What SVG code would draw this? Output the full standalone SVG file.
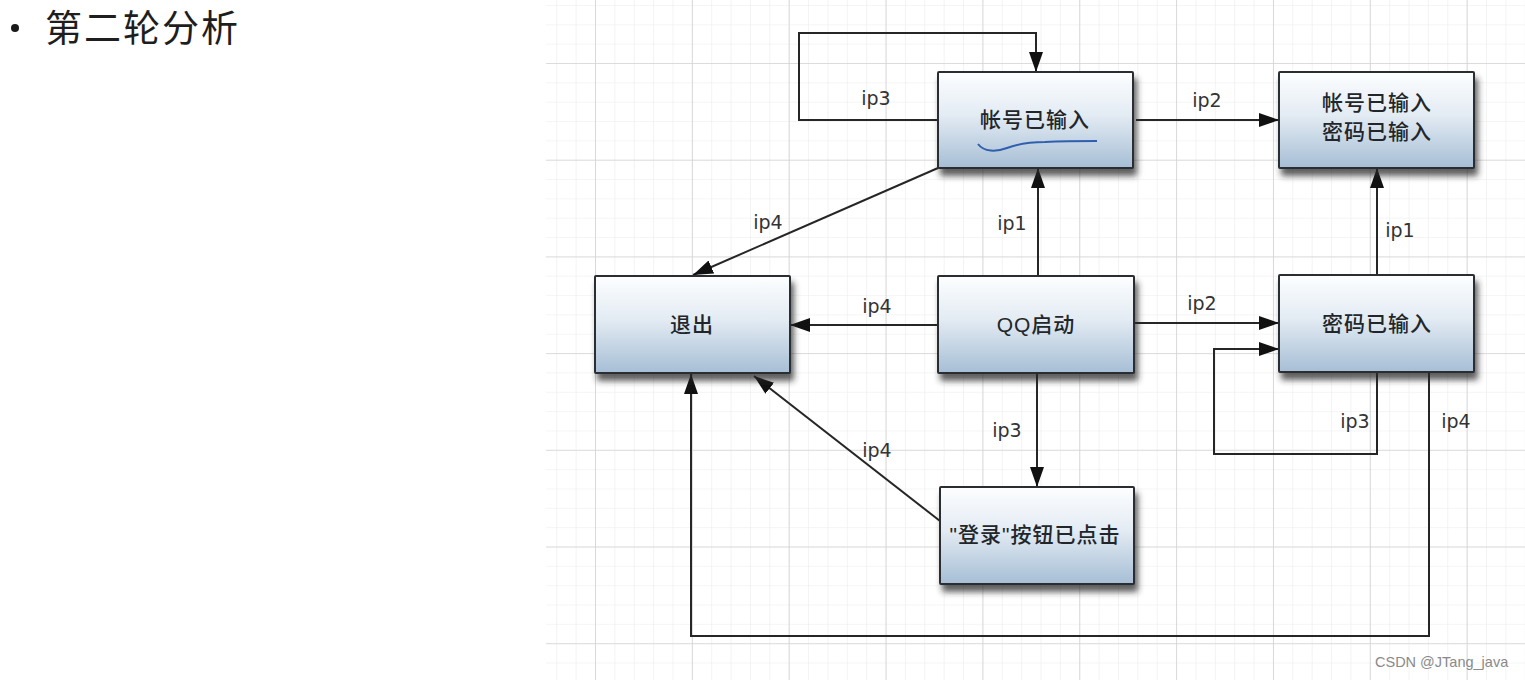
<svg xmlns="http://www.w3.org/2000/svg" width="1525" height="680" viewBox="0 0 1525 680">
<style>
.node rect.box{fill:url(#nodeGrad);stroke:#2a2e31;stroke-width:2;filter:url(#shadow)}
.node text{font-family:"Liberation Sans","Noto Sans CJK SC",sans-serif;font-size:21px;font-weight:500;fill:#22262a;text-anchor:middle;letter-spacing:1px}
.conn line,.conn polyline{stroke:#262626;stroke-width:2;fill:none}
.lbl{font-family:"DejaVu Sans",sans-serif;font-size:19px;fill:#333;text-anchor:middle}
</style>
<defs>
<linearGradient id="nodeGrad" x1="0" y1="0" x2="0" y2="1">
<stop offset="0" stop-color="#fdfeff"/>
<stop offset="0.45" stop-color="#e3ebf3"/>
<stop offset="1" stop-color="#a6bed5"/>
</linearGradient>
<filter id="shadow" x="-10%" y="-10%" width="130%" height="140%">
<feDropShadow dx="3" dy="7" stdDeviation="3" flood-color="#2a2a2a" flood-opacity="0.75"/>
</filter>
<pattern id="minor" patternUnits="userSpaceOnUse" x="595" y="63" width="19.37" height="19.34">
<path d="M0,0 H19.37 M0,0 V19.34" stroke="#ebebeb" stroke-width="1.2" fill="none"/>
</pattern>
<pattern id="major" patternUnits="userSpaceOnUse" x="595" y="63" width="96.85" height="96.7">
<path d="M0,0 H96.85 M0,0 V96.7" stroke="#d3d3d3" stroke-width="1.6" fill="none"/>
</pattern>
<marker id="arr" markerUnits="userSpaceOnUse" markerWidth="22" markerHeight="16" refX="20" refY="7" orient="auto">
<path d="M0,0 L20,7 L0,14 Z" fill="#111"/>
</marker>
</defs>
<rect width="1525" height="680" fill="#ffffff"/>
<g id="grid">
<rect x="546" y="0" width="979" height="680" fill="url(#minor)"/>
<rect x="546" y="0" width="979" height="680" fill="url(#major)"/>
</g>
<g id="title">
<circle cx="15" cy="28" r="4" fill="#1a1a1a"/>
<text x="45" y="42" font-family="'Noto Sans CJK SC',sans-serif" font-size="37" fill="#1e1e1e" letter-spacing="2">第二轮分析</text>
</g>
<g id="connectors" class="conn">
<polyline points="938,120 799,120 799,33 1036,33 1036,72" marker-end="url(#arr)"/>
<line x1="1136" y1="120" x2="1279" y2="120" marker-end="url(#arr)"/>
<line x1="938" y1="168" x2="693" y2="275" marker-end="url(#arr)"/>
<line x1="1038" y1="275" x2="1038" y2="168" marker-end="url(#arr)"/>
<line x1="938" y1="325" x2="790" y2="325" marker-end="url(#arr)"/>
<line x1="1135" y1="323" x2="1279" y2="323" marker-end="url(#arr)"/>
<line x1="1037" y1="373" x2="1037" y2="487" marker-end="url(#arr)"/>
<line x1="1377" y1="275" x2="1377" y2="168" marker-end="url(#arr)"/>
<polyline points="1377,372 1377,454 1214,454 1214,349 1279,349" marker-end="url(#arr)"/>
<polyline points="1429,372 1429,636 691,636 691,374" marker-end="url(#arr)"/>
<line x1="940" y1="521" x2="754" y2="376" marker-end="url(#arr)"/>
<text class="lbl" x="876" y="105">ip3</text>
<text class="lbl" x="1207" y="107">ip2</text>
<text class="lbl" x="768" y="229">ip4</text>
<text class="lbl" x="1012" y="230">ip1</text>
<text class="lbl" x="1400" y="237">ip1</text>
<text class="lbl" x="877" y="313">ip4</text>
<text class="lbl" x="1202" y="310">ip2</text>
<text class="lbl" x="1007" y="437">ip3</text>
<text class="lbl" x="877" y="457">ip4</text>
<text class="lbl" x="1355" y="428">ip3</text>
<text class="lbl" x="1456" y="428">ip4</text>
</g>
<g id="node-account" class="node">
<rect class="box" x="938" y="72" width="195" height="96" rx="1"/>
<text x="1035" y="127">帐号已输入</text>
<path d="M978,144 C984,152 996,152 1007,148 C1018,144 1028,142 1045,142 C1065,141 1082,141 1097,141" stroke="#2f5fae" stroke-width="2" fill="none"/>
</g>
<g id="node-both" class="node">
<rect class="box" x="1279" y="72" width="195" height="96" rx="1"/>
<text x="1377" y="110">帐号已输入</text>
<text x="1377" y="139">密码已输入</text>
</g>
<g id="node-exit" class="node">
<rect class="box" x="595" y="276" width="195" height="97" rx="1"/>
<text x="692" y="332">退出</text>
</g>
<g id="node-qq" class="node">
<rect class="box" x="938" y="276" width="196" height="97" rx="1"/>
<text x="1036" y="332">QQ启动</text>
</g>
<g id="node-pwd" class="node">
<rect class="box" x="1279" y="275" width="195" height="97" rx="1"/>
<text x="1377" y="331">密码已输入</text>
</g>
<g id="node-login" class="node">
<rect class="box" x="940" y="487" width="194" height="97" rx="1"/>
<text x="1035" y="542">"登录"按钮已点击</text>
</g>
<text x="1375" y="667" font-family="'Liberation Sans',sans-serif" font-size="14.5" fill="#8a8a8a">CSDN @JTang_java</text>
</svg>
